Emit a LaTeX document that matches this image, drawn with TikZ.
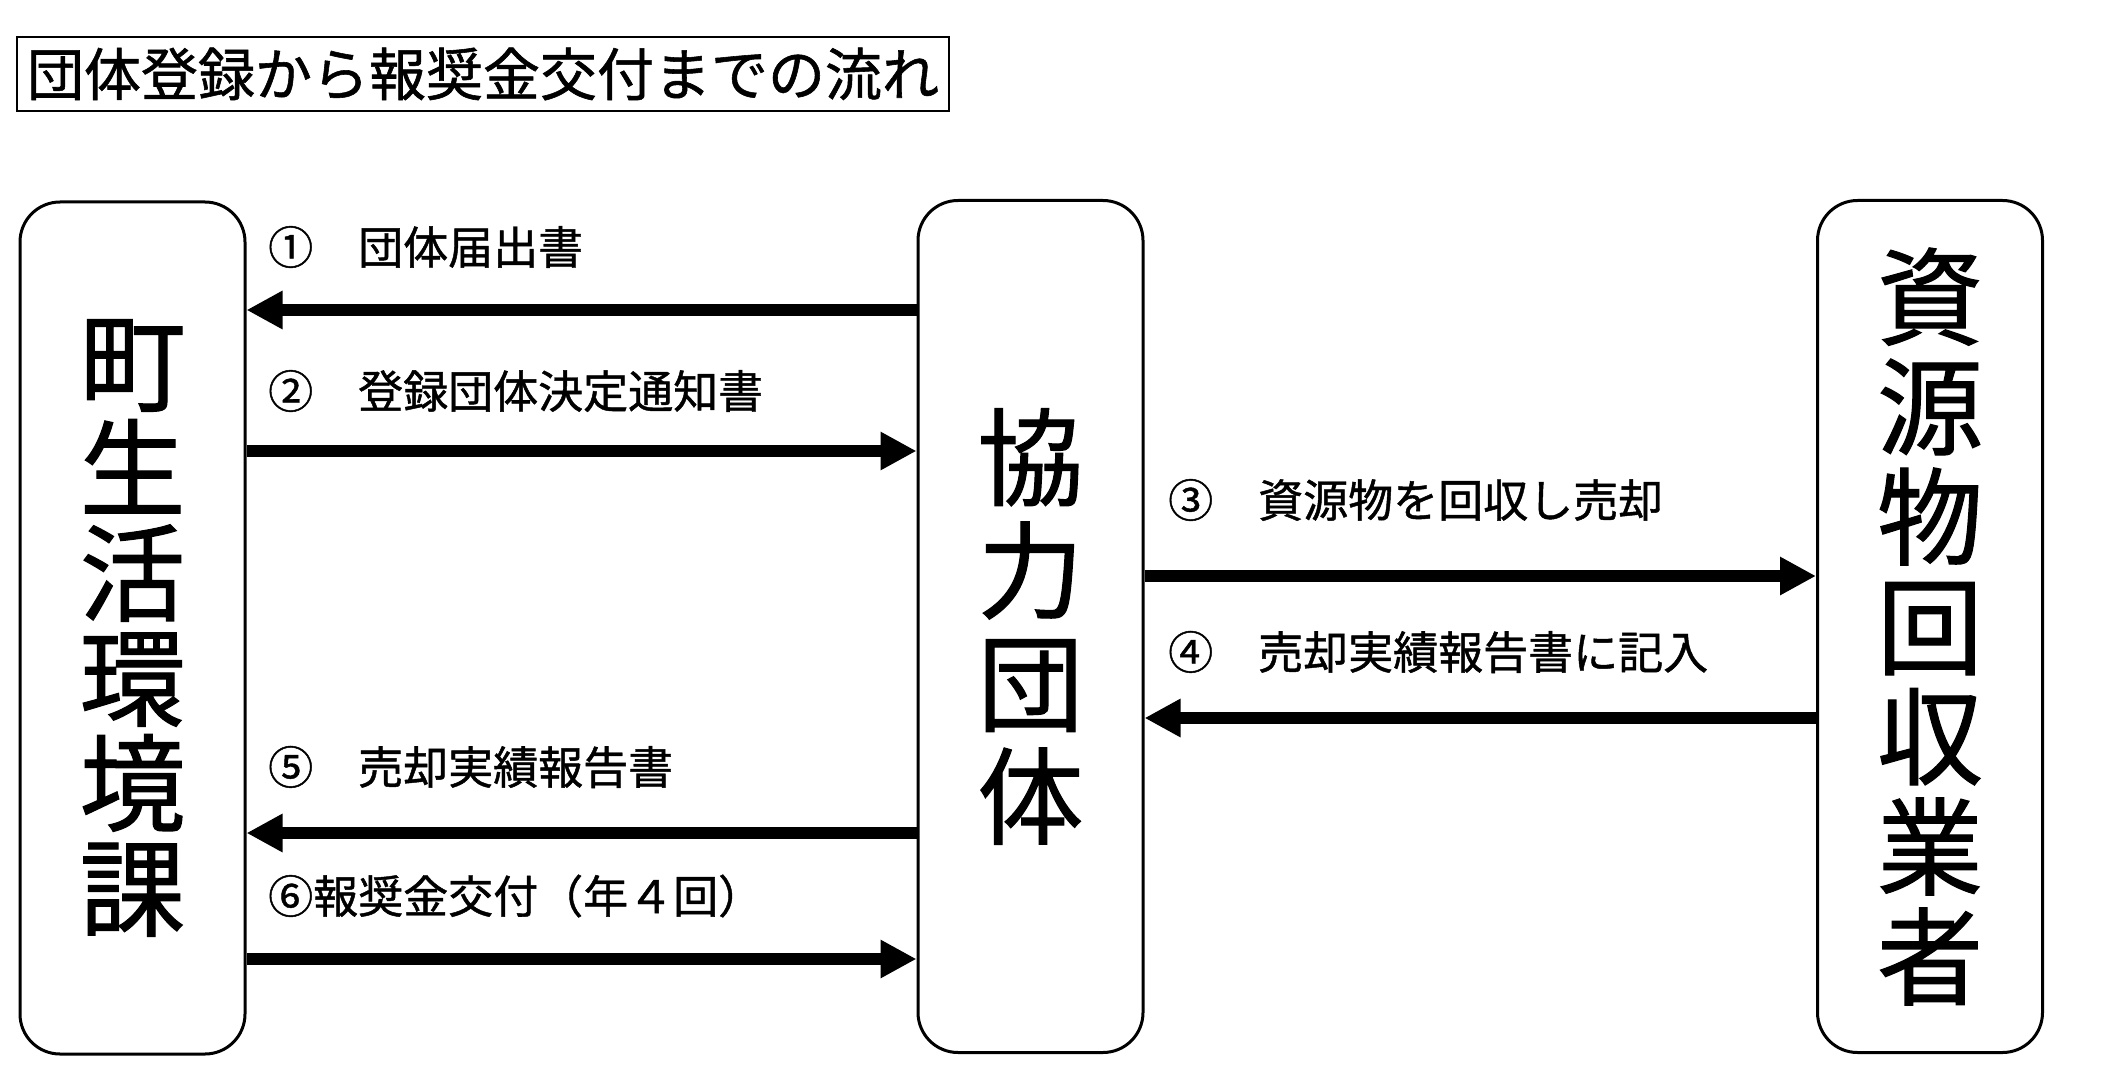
\documentclass[tikz,border=0pt]{standalone}
\usepackage{fontspec}
\setmainfont{Noto Sans CJK JP}[FakeBold=1]
\usetikzlibrary{arrows.meta}

\tikzset{
	party/.style={draw, line width=3pt, rounded corners=40pt, minimum width=225pt, minimum height=852pt, inner sep=0pt, align=center},
	flow/.style={-{Triangle[length=36pt,width=36pt]}, line width=12pt},
	lbl/.style={anchor=west, inner sep=0pt, font=\fontsize{45}{45}\selectfont},
}

\begin{document}
\begin{tikzpicture}[x=1pt, y=-1pt]
	
	\useasboundingbox (0,0) rectangle (2111,1067);
	
	% title
	\node[draw, line width=2pt, minimum width=932pt, minimum height=74pt, inner sep=0pt, font=\fontsize{57}{57}\selectfont] (title) at (483,74) {団体登録から報奨金交付までの流れ};
	
	% the three parties
	\node[party, font=\fontsize{106}{105}\selectfont] (town) at (132.5,628) {町\\生\\活\\環\\境\\課};
	\node[party, font=\fontsize{106}{113}\selectfont] (group) at (1030.5,626.5) {協\\力\\団\\体};
	\node[party, font=\fontsize{106}{110}\selectfont] (dealer) at (1930,626.5) {資\\源\\物\\回\\収\\業\\者};
	
	% flows
	\draw[flow] (group.west |- 0,310) -- (town.east |- 0,310);
	\draw[flow] (town.east |- 0,451) -- (group.west |- 0,451);
	\draw[flow] (group.east |- 0,576) -- (dealer.west |- 0,576);
	\draw[flow] (dealer.west |- 0,718) -- (group.east |- 0,718);
	\draw[flow] (group.west |- 0,833) -- (town.east |- 0,833);
	\draw[flow] (town.east |- 0,959) -- (group.west |- 0,959);
	
	\node[lbl] (lbl1) at (268,247) {①　団体届出書};
	\node[lbl] (lbl2) at (268,391) {②　登録団体決定通知書};
	\node[lbl] (lbl3) at (1168,500) {③　資源物を回収し売却};
	\node[lbl] (lbl4) at (1168,652) {④　売却実績報告書に記入};
	\node[lbl] (lbl5) at (268,767) {⑤　売却実績報告書};
	\node[lbl] (lbl6) at (268,896) {⑥報奨金交付（年４回）};
	
\end{tikzpicture}
\end{document}
